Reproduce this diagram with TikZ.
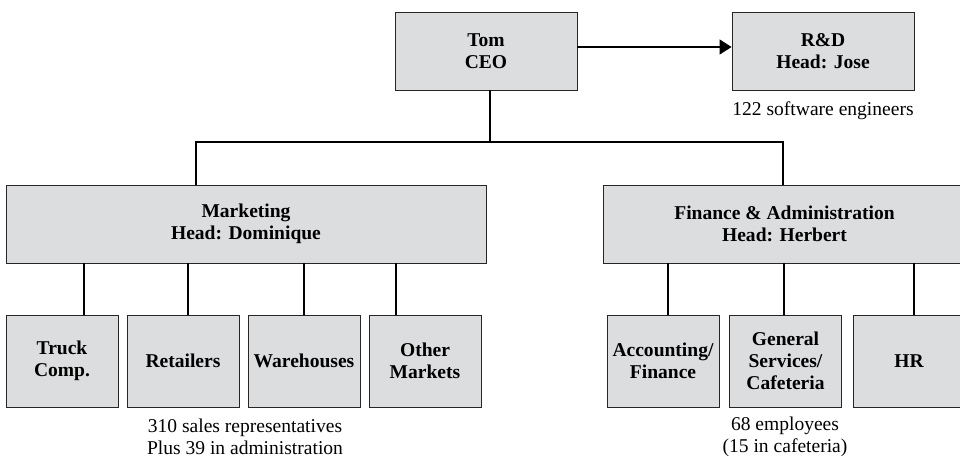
\documentclass[tikz,border=0pt]{standalone}
\usepackage{fontspec}
\setmainfont{Liberation Serif}
\usepackage{tikz}
\usetikzlibrary{arrows.meta,positioning}
\definecolor{boxgray}{RGB}{220,221,223}

\tikzset{
  orgbox/.style={draw=black!85, fill=boxgray, line width=0.6pt, align=center,
    font=\fontsize{13.9}{15.6}\selectfont\bfseries, inner sep=1pt},
  headbox/.style={orgbox, minimum height=1.95cm},
  teambox/.style={orgbox, minimum width=2.8cm, minimum height=2.3cm},
  link/.style={line width=1.4pt},
  note/.style={align=center, font=\fontsize{13.9}{15.6}\selectfont}
}

\begin{document}
\begin{tikzpicture}

\useasboundingbox (0,0) rectangle (24,11.475);

% Top level
\node[headbox, minimum width=4.55cm] (ceo) at (12.15,10.2) {Tom\\CEO};
\node[headbox, minimum width=4.55cm] (rd) at (20.575,10.2) {R\&D\\Head: Jose};
\node[note] (rdnote) at (20.575,8.7) {122 software engineers};

% Departments
\node[headbox, minimum width=12cm] (mkt) at (6.15,5.875) {Marketing\\Head: Dominique};
\node[headbox, minimum width=9.075cm] (fin) at (19.6125,5.875) {Finance \& Administration\\Head: Herbert};

% Teams
\node[teambox] (truck) at (1.55,2.45) {Truck\\Comp.};
\node[teambox] (ret) at (4.575,2.45) {Retailers};
\node[teambox] (ware) at (7.6,2.45) {Warehouses};
\node[teambox] (oth) at (10.625,2.45) {Other\\Markets};
\node[teambox] (acc) at (16.575,2.45) {Accounting/\\Finance};
\node[teambox] (gen) at (19.6375,2.45) {General\\Services/\\Cafeteria};
\node[teambox] (hr) at (22.725,2.45) {HR};

\node[note] (mktnote) at (6.125,0.55) {310 sales representatives\\Plus 39 in administration};
\node[note] (finnote) at (19.625,0.55) {68 employees\\(15 in cafeteria)};

% CEO to R&D
\draw[link, -{Triangle[length=3mm,width=3.7mm]}] ([yshift=1mm]ceo.east) -- ([yshift=1mm]rd.west);

% Bus to departments
\coordinate (busC) at (12.25,7.925);
\coordinate (busL) at (4.9,7.925);
\coordinate (busR) at (19.575,7.925);
\draw[link] (busC |- ceo.south) -- (busC);
\draw[link] (busL |- mkt.north) -- (busL) -- (busR) -- (busR |- fin.north);

% Drops to teams
\foreach \x/\c in {2.1/truck, 4.7/ret, 7.6/ware, 9.9/oth}{
  \coordinate (drop) at (\x,0);
  \draw[link] (drop |- mkt.south) -- (drop |- \c.north);
}
\foreach \x/\c in {16.7/acc, 19.6/gen, 22.85/hr}{
  \coordinate (drop) at (\x,0);
  \draw[link] (drop |- fin.south) -- (drop |- \c.north);
}

\end{tikzpicture}
\end{document}
